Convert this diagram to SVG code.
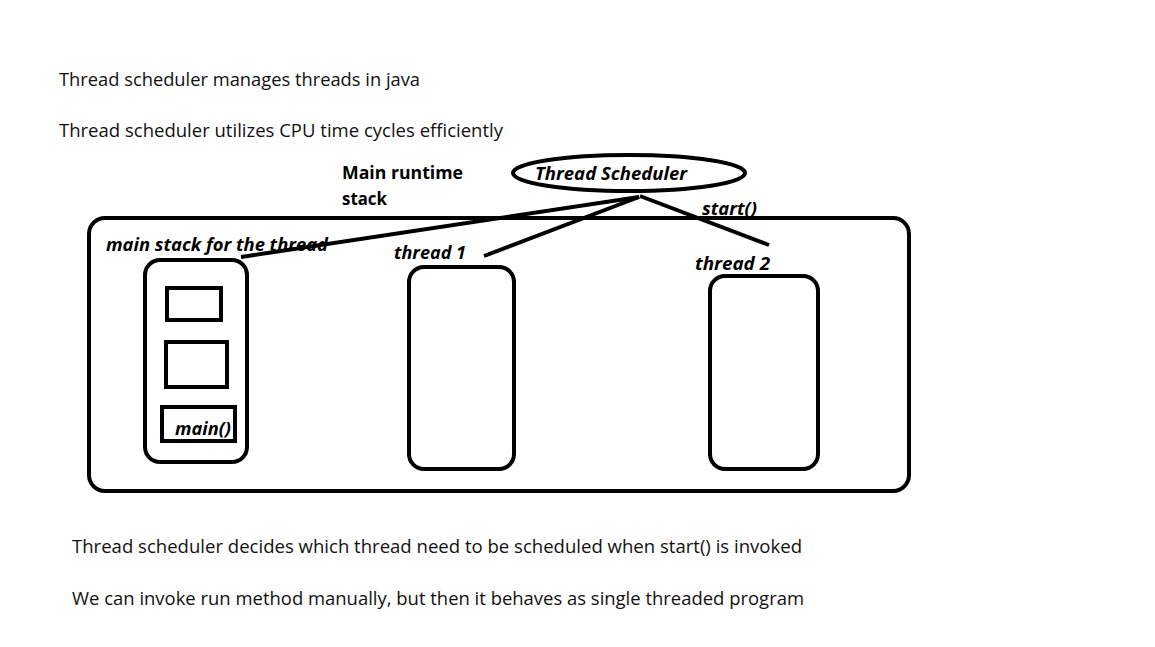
<svg xmlns="http://www.w3.org/2000/svg" width="1155" height="647" viewBox="0 0 1155 647">
<style>
.t{font-family:"Open Sans","Liberation Sans",sans-serif;font-size:18px;fill:#111}
.b{font-family:"Open Sans","Liberation Sans",sans-serif;font-size:18px;font-weight:bold;fill:#000}
.bi{font-family:"Open Sans","Liberation Sans",sans-serif;font-size:18px;font-weight:bold;font-style:italic;fill:#000}
.box{fill:none;stroke:#000;stroke-width:4}
.ln{stroke:#000;stroke-width:4;fill:none}
</style>
<rect width="1155" height="647" fill="#fff"/>
<g id="notes">
<text class="t" x="59" y="86" textLength="361" lengthAdjust="spacingAndGlyphs">Thread scheduler manages threads in java</text>
<text class="t" x="59" y="137" textLength="444" lengthAdjust="spacingAndGlyphs">Thread scheduler utilizes CPU time cycles efficiently</text>
<text class="t" x="72" y="553" textLength="730" lengthAdjust="spacingAndGlyphs">Thread scheduler decides which thread need to be scheduled when start() is invoked</text>
<text class="t" x="72" y="605" textLength="732" lengthAdjust="spacingAndGlyphs">We can invoke run method manually, but then it behaves as single threaded program</text>
<text class="b" x="342" y="179" textLength="121" lengthAdjust="spacingAndGlyphs">Main runtime</text>
<text class="b" x="342" y="205" textLength="45" lengthAdjust="spacingAndGlyphs">stack</text>
</g>
<g id="container">
<rect class="box" x="89" y="218" width="820" height="273" rx="16"/>
</g>
<g id="scheduler">
<ellipse class="box" cx="629" cy="173" rx="116" ry="18"/>
<text class="bi" x="535" y="180" textLength="152" lengthAdjust="spacingAndGlyphs">Thread Scheduler</text>
</g>
<g id="main-stack">
<text class="bi" x="106" y="251" textLength="222" lengthAdjust="spacingAndGlyphs">main stack for the thread</text>
<rect class="box" x="145" y="260" width="102" height="202" rx="15"/>
<rect class="box" x="167" y="288" width="54" height="32"/>
<rect class="box" x="166" y="342" width="61" height="45"/>
<rect class="box" x="162" y="407" width="73" height="34"/>
<text class="bi" x="175" y="435" textLength="56" lengthAdjust="spacingAndGlyphs">main()</text>
</g>
<g id="thread1">
<text class="bi" x="394" y="259" textLength="72" lengthAdjust="spacingAndGlyphs">thread 1</text>
<rect class="box" x="409" y="267" width="105" height="202" rx="15"/>
</g>
<g id="thread2">
<text class="bi" x="695" y="270" textLength="75" lengthAdjust="spacingAndGlyphs">thread 2</text>
<rect class="box" x="710" y="276" width="108" height="193" rx="15"/>
</g>
<g id="connectors">
<line class="ln" x1="639" y1="197" x2="241" y2="257"/>
<line class="ln" x1="639" y1="197" x2="484" y2="256"/>
<line class="ln" x1="640" y1="196" x2="769" y2="245"/>
<text class="bi" x="702" y="215" textLength="55" lengthAdjust="spacingAndGlyphs">start()</text>
</g>
</svg>
